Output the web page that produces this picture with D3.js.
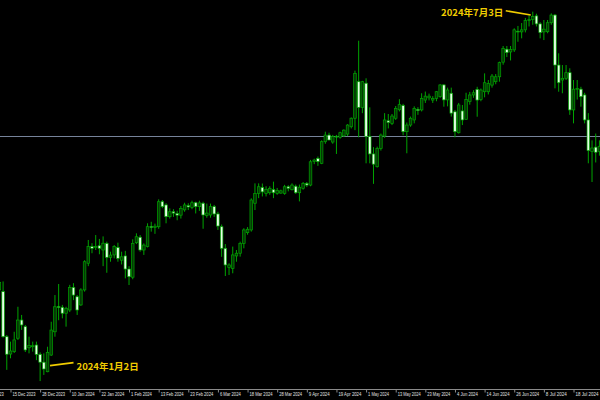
<!DOCTYPE html>
<html><head><meta charset="utf-8">
<script src="https://cdn.jsdelivr.net/npm/d3@7"></script>
<style>html,body{margin:0;padding:0;background:#000;}svg{display:block;}</style>
</head><body><svg id="c" width="600" height="400"></svg>
<script>
// ---- data (USD/JPY daily) ----
const dates = ["2023-12-12","2023-12-13","2023-12-14","2023-12-15","2023-12-18","2023-12-19","2023-12-20","2023-12-21","2023-12-22","2023-12-26","2023-12-27","2023-12-28","2023-12-29",
"2024-01-02","2024-01-03","2024-01-04","2024-01-05","2024-01-08","2024-01-09","2024-01-10","2024-01-11","2024-01-12","2024-01-15","2024-01-16","2024-01-17","2024-01-18","2024-01-19","2024-01-22","2024-01-23","2024-01-24","2024-01-25","2024-01-26","2024-01-29","2024-01-30","2024-01-31",
"2024-02-01","2024-02-02","2024-02-05","2024-02-06","2024-02-07","2024-02-08","2024-02-09","2024-02-12","2024-02-13","2024-02-14","2024-02-15","2024-02-16","2024-02-19","2024-02-20","2024-02-21","2024-02-22","2024-02-23","2024-02-26","2024-02-27","2024-02-28","2024-02-29",
"2024-03-01","2024-03-04","2024-03-05","2024-03-06","2024-03-07","2024-03-08","2024-03-11","2024-03-12","2024-03-13","2024-03-14","2024-03-15","2024-03-18","2024-03-19","2024-03-20","2024-03-21","2024-03-22","2024-03-25","2024-03-26","2024-03-27","2024-03-28","2024-03-29",
"2024-04-01","2024-04-02","2024-04-03","2024-04-04","2024-04-05","2024-04-08","2024-04-09","2024-04-10","2024-04-11","2024-04-12","2024-04-15","2024-04-16","2024-04-17","2024-04-18","2024-04-19","2024-04-22","2024-04-23","2024-04-24","2024-04-25","2024-04-26","2024-04-29","2024-04-30",
"2024-05-01","2024-05-02","2024-05-03","2024-05-06","2024-05-07","2024-05-08","2024-05-09","2024-05-10","2024-05-13","2024-05-14","2024-05-15","2024-05-16","2024-05-17","2024-05-20","2024-05-21","2024-05-22","2024-05-23","2024-05-24","2024-05-27","2024-05-28","2024-05-29","2024-05-30","2024-05-31",
"2024-06-03","2024-06-04","2024-06-05","2024-06-06","2024-06-07","2024-06-10","2024-06-11","2024-06-12","2024-06-13","2024-06-14","2024-06-17","2024-06-18","2024-06-19","2024-06-20","2024-06-21","2024-06-24","2024-06-25","2024-06-26","2024-06-27","2024-06-28",
"2024-07-01","2024-07-02","2024-07-03","2024-07-04","2024-07-05","2024-07-08","2024-07-09","2024-07-10","2024-07-11","2024-07-12","2024-07-15","2024-07-16","2024-07-17","2024-07-18","2024-07-19","2024-07-22","2024-07-23","2024-07-24","2024-07-25","2024-07-26","2024-07-29"];

const opens = [145.60,145.50,142.85,141.83,141.97,142.76,143.83,143.44,142.20,142.26,142.36,141.81,141.35,
140.79,141.77,143.14,144.62,144.58,144.23,144.42,145.75,145.20,144.72,145.60,147.17,148.15,148.10,148.20,147.95,148.34,147.52,147.66,148.10,147.35,147.60,
146.83,146.35,148.38,148.70,147.95,148.15,149.33,149.28,149.32,150.79,150.60,149.91,150.20,150.10,150.00,150.31,150.56,150.46,150.73,150.50,150.70,
149.98,150.01,150.50,150.07,149.32,148.05,146.93,146.87,147.60,147.76,148.34,148.97,149.13,150.70,151.28,151.63,151.28,151.32,151.50,151.28,151.30,
151.28,151.67,151.50,151.70,151.32,151.58,151.87,151.77,153.16,153.34,153.05,154.32,154.71,154.30,154.64,154.58,154.66,154.77,155.20,155.70,157.85,156.34,
157.76,154.62,153.60,152.85,153.93,154.65,155.55,155.40,155.70,156.20,156.45,154.91,155.30,155.60,156.22,156.19,156.77,156.90,156.77,156.87,156.97,157.66,156.78,
157.17,156.08,154.85,156.13,155.64,156.68,157.07,157.40,156.80,157.26,157.26,157.65,157.85,158.14,159.00,159.76,159.60,159.72,160.82,160.78,
160.90,161.45,161.51,161.72,161.25,160.78,160.79,161.32,161.77,158.83,157.95,158.05,158.38,156.19,157.41,157.41,157.07,155.60,153.75,154.00,153.75];

const highs = [146.50,146.10,142.95,142.56,143.14,144.61,144.13,143.54,142.85,142.56,142.56,141.93,141.87,
142.26,143.73,145.30,145.95,144.72,144.61,145.90,146.00,145.30,145.70,147.35,148.54,148.35,148.83,148.60,148.75,148.44,147.85,148.24,148.38,147.85,147.90,
147.00,148.58,148.93,148.83,148.34,149.52,149.61,149.50,150.93,150.89,150.70,150.40,150.35,150.26,150.54,150.73,150.70,150.85,150.79,150.85,150.79,
150.68,150.68,150.60,150.20,149.45,148.30,147.17,148.15,147.95,148.44,149.23,149.30,150.99,151.87,151.87,151.86,151.70,151.70,151.97,151.60,151.50,
151.78,151.76,151.87,151.80,151.80,151.95,151.95,153.25,153.32,153.45,154.40,154.91,154.85,154.72,154.72,154.91,155.05,155.35,155.75,158.50,160.26,157.90,
158.05,156.34,154.00,154.03,154.80,156.00,155.95,155.95,156.42,156.82,156.55,155.45,155.80,156.40,156.35,157.17,157.27,157.15,157.00,157.30,157.70,157.70,157.50,
157.50,156.19,156.60,156.48,157.20,157.25,157.35,157.55,157.45,158.34,157.95,158.30,158.30,159.03,159.95,159.95,159.95,160.99,161.13,161.30,
161.60,161.75,161.97,161.85,161.35,161.48,161.48,161.87,161.83,159.52,158.83,158.83,158.64,157.95,157.95,157.55,157.20,156.00,154.40,154.80,154.40];

const lows = [145.30,142.80,140.90,141.58,141.89,142.66,143.25,141.95,141.87,141.97,141.47,140.24,140.60,
140.76,141.72,142.85,143.82,143.93,143.44,144.30,145.00,144.13,144.66,145.50,147.00,147.76,147.95,147.70,147.00,146.61,147.26,147.46,147.26,147.10,146.28,
145.89,146.23,148.30,147.85,147.66,148.10,149.03,148.90,149.20,150.41,149.52,149.80,149.90,149.70,149.80,150.20,150.30,150.35,150.10,150.25,149.20,
149.85,149.85,149.90,149.13,147.55,146.42,146.48,146.58,147.26,147.56,148.05,148.85,149.03,150.30,151.00,151.10,151.10,151.20,151.00,151.20,151.25,
151.20,151.40,151.45,151.25,150.81,151.50,151.65,151.70,153.00,152.90,153.00,154.20,154.41,154.20,153.60,154.50,154.60,154.65,155.10,155.00,154.58,156.00,
153.05,153.05,151.84,152.80,153.80,154.55,155.10,155.30,155.60,156.10,154.70,153.64,155.20,155.40,155.90,156.10,156.60,156.75,156.60,156.70,156.90,156.38,156.40,
155.80,154.58,154.80,155.30,155.60,156.50,156.90,155.79,156.70,156.93,157.10,157.50,157.70,157.85,158.85,159.30,159.10,159.60,160.20,160.40,
160.75,161.10,161.20,161.10,160.40,160.30,160.70,161.20,157.46,157.26,157.17,157.95,155.90,155.40,156.80,156.38,155.40,153.05,151.95,153.10,153.50];

const closes = [146.05,142.85,141.82,142.01,142.66,143.83,143.54,142.07,142.33,142.32,141.81,141.35,140.95,
141.93,143.24,144.61,144.58,144.23,144.52,145.75,145.30,144.42,145.60,147.26,148.15,148.05,148.15,148.05,148.35,147.52,147.65,148.15,147.46,147.55,146.83,
146.38,148.34,148.73,147.95,148.24,149.32,149.28,149.35,150.79,150.50,149.91,150.20,150.12,150.00,150.40,150.60,150.48,150.73,150.50,150.72,150.01,
150.12,150.50,150.07,149.36,148.05,147.07,147.07,147.66,147.76,148.34,149.13,149.17,150.89,151.28,151.67,151.37,151.52,151.58,151.32,151.46,151.43,
151.67,151.58,151.77,151.32,151.64,151.87,151.77,153.14,153.24,153.15,154.32,154.71,154.42,154.62,154.60,154.85,155.00,155.30,155.70,158.34,156.34,157.85,
154.62,153.60,153.00,153.93,154.71,155.60,155.45,155.83,156.28,156.50,154.91,155.30,155.70,156.28,156.15,156.87,157.00,157.00,156.87,157.26,157.66,156.78,157.36,
156.00,154.91,156.48,155.60,156.80,157.07,157.20,156.77,157.36,157.79,157.75,158.18,158.14,158.97,159.81,159.56,159.75,160.90,160.78,160.90,
161.45,161.50,161.68,161.25,160.74,160.94,161.32,161.77,158.83,157.79,158.05,158.38,156.19,157.41,157.45,156.97,155.60,153.80,153.95,153.70,154.05];

const tickDates  = ["2023-12-05","2023-12-15","2023-12-28","2024-01-10","2024-01-22","2024-02-01","2024-02-13","2024-02-23","2024-03-06","2024-03-18","2024-03-28","2024-04-09","2024-04-19","2024-05-01","2024-05-13","2024-05-23","2024-06-04","2024-06-14","2024-06-26","2024-07-08","2024-07-18"];
const tickLabels = ["5 Dec 2023","15 Dec 2023","28 Dec 2023","10 Jan 2024","22 Jan 2024","1 Feb 2024","13 Feb 2024","23 Feb 2024","6 Mar 2024","18 Mar 2024","28 Mar 2024","9 Apr 2024","19 Apr 2024","1 May 2024","13 May 2024","23 May 2024","4 Jun 2024","14 Jun 2024","26 Jun 2024","8 Jul 2024","18 Jul 2024"];

const noteDates  = ["2024-01-02","2024-07-03"];
const notePrices = [141.15, 161.77];
const noteLabels = ["2024年1月2日","2024年7月3日"];
const levelPrice = 154.66;

// ---- drawing ----
const W = 600, H = 400, axisY = 389.5;
const svg = d3.select("#c");
svg.append("rect").attr("width", W).attr("height", H).attr("fill", "#000");

const idx15 = dates.indexOf("2023-12-15"), idx18 = dates.indexOf("2024-07-18");
const x = d3.scaleLinear().domain([idx15, idx18]).range([10.5, 573.5]);
const y = d3.scaleLinear().domain([140, 162]).range([385.15, 11.15]);

svg.append("clipPath").attr("id", "plot").append("rect")
  .attr("x", 0).attr("y", 0).attr("width", W).attr("height", axisY);
const plot = svg.append("g").attr("clip-path", "url(#plot)");

// horizontal level line
plot.append("line").attr("x1", 0).attr("x2", W)
  .attr("y1", Math.round(y(levelPrice)) + 0.5).attr("y2", Math.round(y(levelPrice)) + 0.5)
  .attr("stroke", "#76839a").attr("stroke-width", 1);

const bars = dates.map((d, i) => ({d, i, o: opens[i], h: highs[i], l: lows[i], c: closes[i]}));
const green = "#00a400";
const g = plot.selectAll("g.bar").data(bars).join("g").attr("class", "bar");
g.append("line")
  .attr("x1", b => x(b.i)).attr("x2", b => x(b.i))
  .attr("y1", b => y(b.h)).attr("y2", b => y(b.l))
  .attr("stroke", green).attr("stroke-width", 1);
const bw = 2.6;
g.append("rect")
  .attr("x", b => x(b.i) - bw / 2).attr("width", bw)
  .attr("y", b => y(Math.max(b.o, b.c)))
  .attr("height", b => Math.max(0.8, Math.abs(y(b.o) - y(b.c))))
  .attr("fill", b => b.c >= b.o ? "#053805" : "#e4ffe4")
  .attr("stroke", green).attr("stroke-width", 0.7);

// annotations
const yellow = "#f0cc00";
noteDates.forEach((nd, k) => {
  const xi = x(dates.indexOf(nd)), yi = y(notePrices[k]);
  const ann = svg.append("g");
  if (k === 0) {
    ann.append("line").attr("x1", xi + 2.5).attr("y1", yi).attr("x2", xi + 26).attr("y2", yi - 3)
      .attr("stroke", yellow).attr("stroke-width", 1.6);
    ann.append("text").attr("x", xi + 29).attr("y", yi + 4.3)
      .attr("fill", yellow).attr("font-family", "'Noto Sans CJK JP', sans-serif")
      .attr("font-weight", "bold").attr("font-size", 9.5).text(noteLabels[k]);
  } else {
    ann.append("line").attr("x1", xi - 2).attr("y1", yi).attr("x2", xi - 27).attr("y2", yi - 4.3)
      .attr("stroke", yellow).attr("stroke-width", 1.6);
    ann.append("text").attr("x", xi - 29.5).attr("y", yi + 1.3).attr("text-anchor", "end")
      .attr("fill", yellow).attr("font-family", "'Noto Sans CJK JP', sans-serif")
      .attr("font-weight", "bold").attr("font-size", 9.5).text(noteLabels[k]);
  }
});

// bottom time axis
const tickIdx = tickDates.map((td, k) => {
  const j = dates.indexOf(td);
  return j >= 0 ? j : dates.indexOf(tickDates[k + 1]) - 8;
});
const axis = d3.axisBottom(x).tickValues(tickIdx)
  .tickFormat((v, k) => tickLabels[k]).tickSize(3).tickSizeOuter(0);
const ax = svg.append("g").attr("transform", `translate(0,${axisY})`).call(axis);
ax.select(".domain").attr("stroke", "#8a8a8a").attr("d", `M0,0H${W}`);
ax.selectAll(".tick line").attr("stroke", "#8a8a8a");
ax.selectAll(".tick text").attr("fill", "#e2e2e2").attr("text-anchor", "start")
  .attr("x", 1.5).attr("y", 2.6).attr("dy", "0.71em")
  .attr("font-family", "'Liberation Sans', Arial, sans-serif").attr("font-size", 5.6)
  .each(function () {
    // squeeze to the narrow width seen in the reference (about 2.1 px per character)
    const target = this.textContent.length * 2.08;
    const w = this.getComputedTextLength();
    if (w > target) this.setAttribute("textLength", target), this.setAttribute("lengthAdjust", "spacingAndGlyphs");
  });
</script></body></html>
